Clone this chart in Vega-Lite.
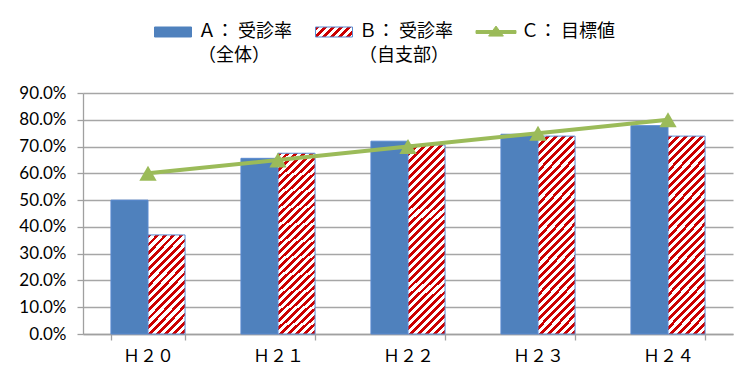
{
  "$schema": "https://vega.github.io/schema/vega-lite/v6.json",
  "width": 650,
  "height": 241,
  "autosize": {"type": "none"},
  "padding": {"left": 83, "top": 93, "right": 11, "bottom": 48},
  "background": "#ffffff",
  "config": {
    "view": {"stroke": null},
    "style": {"guide-label": {"lineHeight": 24}},
    "axis": {
      "domainColor": "#a0a0a0",
      "domainWidth": 1.3,
      "tickColor": "#a0a0a0",
      "tickWidth": 1.3,
      "tickSize": 6,
      "labelColor": "#000000",
      "title": null
    }
  },
  "data": {
    "values": [
      {"year": "Ｈ２０", "series": "Ａ： 受診率\n（全体）", "rate": 0.5},
      {"year": "Ｈ２０", "series": "Ｂ： 受診率\n（自支部）", "rate": 0.37},
      {"year": "Ｈ２０", "series": "Ｃ： 目標値", "rate": 0.6},
      {"year": "Ｈ２１", "series": "Ａ： 受診率\n（全体）", "rate": 0.656},
      {"year": "Ｈ２１", "series": "Ｂ： 受診率\n（自支部）", "rate": 0.675},
      {"year": "Ｈ２１", "series": "Ｃ： 目標値", "rate": 0.65},
      {"year": "Ｈ２２", "series": "Ａ： 受診率\n（全体）", "rate": 0.72},
      {"year": "Ｈ２２", "series": "Ｂ： 受診率\n（自支部）", "rate": 0.706},
      {"year": "Ｈ２２", "series": "Ｃ： 目標値", "rate": 0.7},
      {"year": "Ｈ２３", "series": "Ａ： 受診率\n（全体）", "rate": 0.746},
      {"year": "Ｈ２３", "series": "Ｂ： 受診率\n（自支部）", "rate": 0.739},
      {"year": "Ｈ２３", "series": "Ｃ： 目標値", "rate": 0.75},
      {"year": "Ｈ２４", "series": "Ａ： 受診率\n（全体）", "rate": 0.778},
      {"year": "Ｈ２４", "series": "Ｂ： 受診率\n（自支部）", "rate": 0.739},
      {"year": "Ｈ２４", "series": "Ｃ： 目標値", "rate": 0.8}
    ]
  },
  "encoding": {
    "x": {
      "field": "year",
      "type": "nominal",
      "sort": null,
      "scale": {"paddingInner": 0.43, "paddingOuter": 0.215},
      "axis": {
        "labelAngle": 0,
        "tickBand": "extent",
        "labelFont": "Noto Sans CJK JP",
        "labelFontSize": 17,
        "labelPadding": 8,
        "grid": false
      }
    },
    "y": {
      "field": "rate",
      "type": "quantitative",
      "scale": {"domain": [0, 0.9], "nice": false},
      "axis": {
        "values": [0, 0.1, 0.2, 0.3, 0.4, 0.5, 0.6, 0.7, 0.8, 0.9],
        "format": ".1%",
        "labelFont": "Lato",
        "labelFontSize": 17,
        "labelPadding": 11,
        "grid": true,
        "gridColor": "#a6a6a6",
        "gridWidth": 1.3
      }
    }
  },
  "layer": [
    {
      "transform": [{"filter": "indexof(datum.series, 'Ｃ') !== 0"}],
      "mark": {"type": "bar", "stroke": "#5a8ad0", "strokeWidth": 1},
      "encoding": {
        "xOffset": {"field": "series", "type": "nominal", "sort": null},
        "fill": {
          "condition": [
            {
              "test": "indexof(datum.series, 'Ｂ') === 0 && datum.year === 'Ｈ２０'",
              "value": {
                "gradient": "linear", "x1": 0, "y1": 0, "x2": 0.4633, "y2": 1.2061,
                "stops": [
                  {"offset": 0, "color": "#c00"}, {"offset": 0.028, "color": "#c00"}, {"offset": 0.028, "color": "#fff"}, {"offset": 0.06, "color": "#fff"},
                  {"offset": 0.06, "color": "#c00"}, {"offset": 0.088, "color": "#c00"}, {"offset": 0.088, "color": "#fff"}, {"offset": 0.12, "color": "#fff"},
                  {"offset": 0.12, "color": "#c00"}, {"offset": 0.148, "color": "#c00"}, {"offset": 0.148, "color": "#fff"}, {"offset": 0.18, "color": "#fff"},
                  {"offset": 0.18, "color": "#c00"}, {"offset": 0.208, "color": "#c00"}, {"offset": 0.208, "color": "#fff"}, {"offset": 0.24, "color": "#fff"},
                  {"offset": 0.24, "color": "#c00"}, {"offset": 0.268, "color": "#c00"}, {"offset": 0.268, "color": "#fff"}, {"offset": 0.3, "color": "#fff"},
                  {"offset": 0.3, "color": "#c00"}, {"offset": 0.328, "color": "#c00"}, {"offset": 0.328, "color": "#fff"}, {"offset": 0.36, "color": "#fff"},
                  {"offset": 0.36, "color": "#c00"}, {"offset": 0.388, "color": "#c00"}, {"offset": 0.388, "color": "#fff"}, {"offset": 0.42, "color": "#fff"},
                  {"offset": 0.42, "color": "#c00"}, {"offset": 0.448, "color": "#c00"}, {"offset": 0.448, "color": "#fff"}, {"offset": 0.48, "color": "#fff"},
                  {"offset": 0.48, "color": "#c00"}, {"offset": 0.508, "color": "#c00"}, {"offset": 0.508, "color": "#fff"}, {"offset": 0.54, "color": "#fff"},
                  {"offset": 0.54, "color": "#c00"}, {"offset": 0.568, "color": "#c00"}, {"offset": 0.568, "color": "#fff"}, {"offset": 0.6, "color": "#fff"},
                  {"offset": 0.6, "color": "#c00"}, {"offset": 0.628, "color": "#c00"}, {"offset": 0.628, "color": "#fff"}, {"offset": 0.66, "color": "#fff"},
                  {"offset": 0.66, "color": "#c00"}, {"offset": 0.688, "color": "#c00"}, {"offset": 0.688, "color": "#fff"}, {"offset": 0.72, "color": "#fff"},
                  {"offset": 0.72, "color": "#c00"}, {"offset": 0.748, "color": "#c00"}, {"offset": 0.748, "color": "#fff"}, {"offset": 0.78, "color": "#fff"},
                  {"offset": 0.78, "color": "#c00"}, {"offset": 0.808, "color": "#c00"}, {"offset": 0.808, "color": "#fff"}, {"offset": 0.84, "color": "#fff"},
                  {"offset": 0.84, "color": "#c00"}, {"offset": 0.868, "color": "#c00"}, {"offset": 0.868, "color": "#fff"}, {"offset": 0.9, "color": "#fff"},
                  {"offset": 0.9, "color": "#c00"}, {"offset": 0.928, "color": "#c00"}, {"offset": 0.928, "color": "#fff"}, {"offset": 0.96, "color": "#fff"},
                  {"offset": 0.96, "color": "#c00"}, {"offset": 0.988, "color": "#c00"}, {"offset": 0.988, "color": "#fff"}, {"offset": 1, "color": "#fff"}
                ]
              }
            },
            {
              "test": "indexof(datum.series, 'Ｂ') === 0",
              "value": {
                "gradient": "linear", "x1": 0, "y1": 0, "x2": 0.2221, "y2": 1.1502,
                "stops": [
                  {"offset": 0, "color": "#c00"}, {"offset": 0.017, "color": "#c00"}, {"offset": 0.017, "color": "#fff"}, {"offset": 0.035, "color": "#fff"},
                  {"offset": 0.035, "color": "#c00"}, {"offset": 0.052, "color": "#c00"}, {"offset": 0.052, "color": "#fff"}, {"offset": 0.07, "color": "#fff"},
                  {"offset": 0.07, "color": "#c00"}, {"offset": 0.087, "color": "#c00"}, {"offset": 0.087, "color": "#fff"}, {"offset": 0.105, "color": "#fff"},
                  {"offset": 0.105, "color": "#c00"}, {"offset": 0.122, "color": "#c00"}, {"offset": 0.122, "color": "#fff"}, {"offset": 0.14, "color": "#fff"},
                  {"offset": 0.14, "color": "#c00"}, {"offset": 0.157, "color": "#c00"}, {"offset": 0.157, "color": "#fff"}, {"offset": 0.175, "color": "#fff"},
                  {"offset": 0.175, "color": "#c00"}, {"offset": 0.192, "color": "#c00"}, {"offset": 0.192, "color": "#fff"}, {"offset": 0.21, "color": "#fff"},
                  {"offset": 0.21, "color": "#c00"}, {"offset": 0.227, "color": "#c00"}, {"offset": 0.227, "color": "#fff"}, {"offset": 0.245, "color": "#fff"},
                  {"offset": 0.245, "color": "#c00"}, {"offset": 0.262, "color": "#c00"}, {"offset": 0.262, "color": "#fff"}, {"offset": 0.28, "color": "#fff"},
                  {"offset": 0.28, "color": "#c00"}, {"offset": 0.297, "color": "#c00"}, {"offset": 0.297, "color": "#fff"}, {"offset": 0.315, "color": "#fff"},
                  {"offset": 0.315, "color": "#c00"}, {"offset": 0.332, "color": "#c00"}, {"offset": 0.332, "color": "#fff"}, {"offset": 0.35, "color": "#fff"},
                  {"offset": 0.35, "color": "#c00"}, {"offset": 0.367, "color": "#c00"}, {"offset": 0.367, "color": "#fff"}, {"offset": 0.385, "color": "#fff"},
                  {"offset": 0.385, "color": "#c00"}, {"offset": 0.402, "color": "#c00"}, {"offset": 0.402, "color": "#fff"}, {"offset": 0.42, "color": "#fff"},
                  {"offset": 0.42, "color": "#c00"}, {"offset": 0.437, "color": "#c00"}, {"offset": 0.437, "color": "#fff"}, {"offset": 0.455, "color": "#fff"},
                  {"offset": 0.455, "color": "#c00"}, {"offset": 0.472, "color": "#c00"}, {"offset": 0.472, "color": "#fff"}, {"offset": 0.49, "color": "#fff"},
                  {"offset": 0.49, "color": "#c00"}, {"offset": 0.507, "color": "#c00"}, {"offset": 0.507, "color": "#fff"}, {"offset": 0.525, "color": "#fff"},
                  {"offset": 0.525, "color": "#c00"}, {"offset": 0.542, "color": "#c00"}, {"offset": 0.542, "color": "#fff"}, {"offset": 0.56, "color": "#fff"},
                  {"offset": 0.56, "color": "#c00"}, {"offset": 0.577, "color": "#c00"}, {"offset": 0.577, "color": "#fff"}, {"offset": 0.595, "color": "#fff"},
                  {"offset": 0.595, "color": "#c00"}, {"offset": 0.612, "color": "#c00"}, {"offset": 0.612, "color": "#fff"}, {"offset": 0.63, "color": "#fff"},
                  {"offset": 0.63, "color": "#c00"}, {"offset": 0.647, "color": "#c00"}, {"offset": 0.647, "color": "#fff"}, {"offset": 0.665, "color": "#fff"},
                  {"offset": 0.665, "color": "#c00"}, {"offset": 0.682, "color": "#c00"}, {"offset": 0.682, "color": "#fff"}, {"offset": 0.7, "color": "#fff"},
                  {"offset": 0.7, "color": "#c00"}, {"offset": 0.717, "color": "#c00"}, {"offset": 0.717, "color": "#fff"}, {"offset": 0.735, "color": "#fff"},
                  {"offset": 0.735, "color": "#c00"}, {"offset": 0.752, "color": "#c00"}, {"offset": 0.752, "color": "#fff"}, {"offset": 0.77, "color": "#fff"},
                  {"offset": 0.77, "color": "#c00"}, {"offset": 0.787, "color": "#c00"}, {"offset": 0.787, "color": "#fff"}, {"offset": 0.805, "color": "#fff"},
                  {"offset": 0.805, "color": "#c00"}, {"offset": 0.822, "color": "#c00"}, {"offset": 0.822, "color": "#fff"}, {"offset": 0.84, "color": "#fff"},
                  {"offset": 0.84, "color": "#c00"}, {"offset": 0.857, "color": "#c00"}, {"offset": 0.857, "color": "#fff"}, {"offset": 0.875, "color": "#fff"},
                  {"offset": 0.875, "color": "#c00"}, {"offset": 0.892, "color": "#c00"}, {"offset": 0.892, "color": "#fff"}, {"offset": 0.91, "color": "#fff"},
                  {"offset": 0.91, "color": "#c00"}, {"offset": 0.927, "color": "#c00"}, {"offset": 0.927, "color": "#fff"}, {"offset": 0.945, "color": "#fff"},
                  {"offset": 0.945, "color": "#c00"}, {"offset": 0.962, "color": "#c00"}, {"offset": 0.962, "color": "#fff"}, {"offset": 0.98, "color": "#fff"},
                  {"offset": 0.98, "color": "#c00"}, {"offset": 0.997, "color": "#c00"}, {"offset": 0.997, "color": "#fff"}, {"offset": 1, "color": "#fff"}
                ]
              }
            }
          ],
          "value": "#4f81bd"
        }
      }
    },
    {
      "transform": [{"filter": "indexof(datum.series, 'Ｃ') === 0"}],
      "mark": {"type": "line", "stroke": "#9bbb59", "strokeWidth": 4},
      "encoding": {}
    },
    {
      "transform": [{"filter": "indexof(datum.series, 'Ｃ') === 0"}],
      "mark": {"type": "point", "shape": "triangle-up", "size": 300, "filled": true, "fill": "#9bbb59", "opacity": 1, "strokeWidth": 0},
      "encoding": {}
    },
    {
      "transform": [{"filter": "false"}],
      "mark": {"type": "point", "filled": true, "opacity": 1},
      "encoding": {
        "fill": {
          "field": "series",
          "type": "nominal",
          "scale": {
            "domain": ["Ａ： 受診率\n（全体）", "Ｂ： 受診率\n（自支部）", "Ｃ： 目標値"],
            "range": [
              "#4f81bd",
              {"expr": "{gradient: 'linear', x1: 0, y1: 0, x2: 1.1853, y2: 0.3204, stops: [{offset: 0, color: '#c00'}, {offset: 0.077, color: '#c00'}, {offset: 0.077, color: '#fff'}, {offset: 0.17, color: '#fff'}, {offset: 0.17, color: '#c00'}, {offset: 0.247, color: '#c00'}, {offset: 0.247, color: '#fff'}, {offset: 0.34, color: '#fff'}, {offset: 0.34, color: '#c00'}, {offset: 0.417, color: '#c00'}, {offset: 0.417, color: '#fff'}, {offset: 0.51, color: '#fff'}, {offset: 0.51, color: '#c00'}, {offset: 0.587, color: '#c00'}, {offset: 0.587, color: '#fff'}, {offset: 0.68, color: '#fff'}, {offset: 0.68, color: '#c00'}, {offset: 0.757, color: '#c00'}, {offset: 0.757, color: '#fff'}, {offset: 0.85, color: '#fff'}, {offset: 0.85, color: '#c00'}, {offset: 0.927, color: '#c00'}, {offset: 0.927, color: '#fff'}, {offset: 1, color: '#fff'}]}"},
              "#9bbb59"
            ]
          },
          "legend": {
            "title": null,
            "orient": "none",
            "direction": "horizontal",
            "legendX": 71,
            "legendY": -80,
            "padding": 0,
            "symbolSize": 1369,
            "symbolStrokeWidth": 1,
            "symbolOpacity": 1,
            "columnPadding": 20,
            "labelOffset": 6,
            "labelFont": "Noto Sans CJK JP",
            "labelFontSize": 18,
            "labelColor": "#000000",
            "labelLimit": 200,
            "labelBaseline": "middle",
            "labelExpr": "indexof(datum.label, '\\n') >= 0 ? split(datum.label, '\\n') : [datum.label, ' ']"
          }
        },
        "shape": {
          "field": "series",
          "type": "nominal",
          "scale": {
            "domain": ["Ａ： 受診率\n（全体）", "Ｂ： 受診率\n（自支部）", "Ｃ： 目標値"],
            "range": [
              "M-1,-0.27H1V0.27H-1Z",
              "M-1,-0.27H1V0.27H-1Z",
              "M-1.08,-0.08H1.08V0.08H-1.08ZM0,-0.32L0.4,0.22H-0.4Z"
            ]
          }
        },
        "stroke": {
          "field": "series",
          "type": "nominal",
          "scale": {
            "domain": ["Ａ： 受診率\n（全体）", "Ｂ： 受診率\n（自支部）", "Ｃ： 目標値"],
            "range": ["#4f81bd", "#5a8ad0", "#9bbb59"]
          }
        }
      }
    }
  ]
}
